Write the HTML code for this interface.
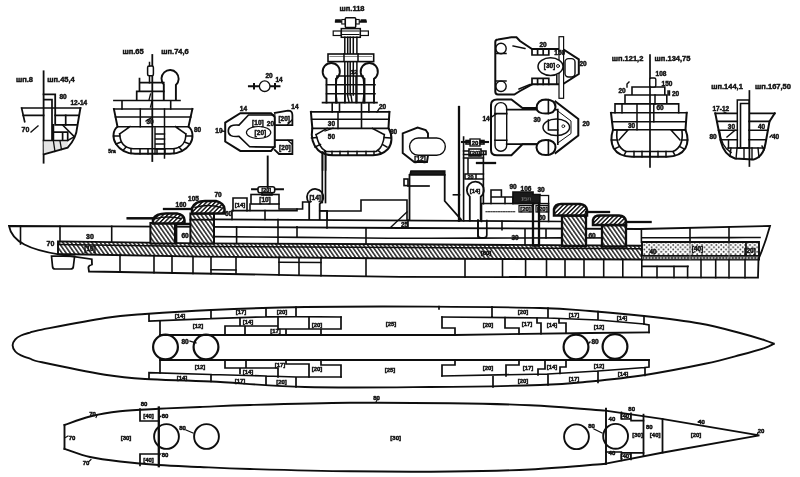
<!DOCTYPE html><html><head><meta charset="utf-8"><style>
html,body{margin:0;padding:0;background:#fff;}
svg{display:block;will-change:transform;}
text{font-family:"Liberation Sans",sans-serif;fill:#111;stroke:#111;stroke-width:0.45px;}
</style></head><body>
<svg width="800" height="477" viewBox="0 0 800 477">
<defs>
<pattern id="h" patternUnits="userSpaceOnUse" width="3.4" height="3.4" patternTransform="rotate(-35)">
<rect width="3.4" height="3.4" fill="#fff"/><line x1="0.8" y1="-1" x2="0.8" y2="4.4" stroke="#111" stroke-width="1.4"/></pattern>
<pattern id="h2" patternUnits="userSpaceOnUse" width="3.1" height="3.1" patternTransform="rotate(45)">
<rect width="3.1" height="3.1" fill="#fff"/><line x1="0.7" y1="-1" x2="0.7" y2="4.1" stroke="#111" stroke-width="1.5"/></pattern>
<pattern id="dots" patternUnits="userSpaceOnUse" width="4.8" height="4.6">
<rect width="4.8" height="4.6" fill="#fff"/><circle cx="1.2" cy="1.15" r="0.95" fill="#333"/><circle cx="3.6" cy="3.45" r="0.95" fill="#333"/></pattern>
<pattern id="sd" patternUnits="userSpaceOnUse" width="3.2" height="4">
<rect width="3.2" height="4" fill="#444"/><circle cx="1.6" cy="2" r="0.8" fill="#fff"/></pattern>
</defs>
<rect width="800" height="477" fill="#fff"/>
<g stroke="#0e0e0e" fill="none" stroke-linecap="square">

<path d="M58,241.4 L200,243.4 L400,244.2 L642,245.8 L642,259.5 L400,258.5 L200,256.6 L58,254.0 Z" stroke-width="1.90" fill="url(#h)" />
<path d="M58,244.5 L200,246.5 L400,247.5 L642,248.8" stroke-width="1.50" fill="none" />
<path d="M642,242 L759,242 L759,259.5 L642,259.5 Z" stroke-width="1.90" fill="url(#dots)" />
<rect x="642" y="255.5" width="117" height="4" fill="url(#sd)" stroke="none"/>
<path d="M642,255.5 L759,255.5" stroke-width="1.10" fill="none" />
<path d="M746,242 L746,255.5" stroke-width="1.70" fill="none" />
<path d="M690,242 L690,259.5 M729,242 L729,259.5" stroke-width="0.90" fill="none" stroke="#777"/>
<path d="M9,226 L111,226.3 L400,228 L640,229 L770,226 Q765,244 758.5,259 L758,277.7 L640,277.3 L400,276.8 L300,275.3 L120,272 L89,271.5 L88.4,267.5 Q88.5,265.5 92,264.5 L91.8,259.2 L60,254.6 C30,250 12,242 9,226 Z" stroke-width="1.80" fill="none" />
<path d="M51.5,256 L74.6,256.3 L73.3,267 Q73,269 70.5,269 L55,269 Q53,269 52.6,267 Z" stroke-width="1.70" fill="none" />
<path d="M20.5,226.0 L20.5,244.0" stroke-width="1.60"/>
<path d="M60.0,226.3 L60.0,241.4" stroke-width="1.60"/>
<path d="M111.7,226.3 L111.7,242.2" stroke-width="1.60"/>
<path d="M120.0,255.1 L120.0,272.1" stroke-width="1.60"/>
<path d="M154.0,255.8 L154.0,272.7" stroke-width="1.60"/>
<path d="M172.0,256.1 L172.0,273.0" stroke-width="1.60"/>
<path d="M193.0,256.5 L193.0,273.4" stroke-width="1.60"/>
<path d="M211.0,256.7 L211.0,273.7" stroke-width="1.60"/>
<path d="M236.0,256.9 L236.0,274.2" stroke-width="1.60"/>
<path d="M279.0,257.4 L279.0,274.9" stroke-width="1.60"/>
<path d="M299.0,257.5 L299.0,275.3" stroke-width="1.60"/>
<path d="M321.0,257.7 L321.0,275.6" stroke-width="1.60"/>
<path d="M366.0,258.2 L366.0,276.3" stroke-width="1.60"/>
<path d="M465.0,258.8 L465.0,276.9" stroke-width="1.60"/>
<path d="M502.5,258.9 L502.5,277.0" stroke-width="1.60"/>
<path d="M525.6,259.0 L525.6,277.1" stroke-width="1.60"/>
<path d="M546.5,259.1 L546.5,277.1" stroke-width="1.60"/>
<path d="M565.0,259.2 L565.0,277.1" stroke-width="1.60"/>
<path d="M584.0,259.3 L584.0,277.2" stroke-width="1.60"/>
<path d="M603.7,259.3 L603.7,277.2" stroke-width="1.60"/>
<path d="M622.8,259.4 L622.8,277.3" stroke-width="1.60"/>
<path d="M641.8,259.5 L641.8,277.3" stroke-width="1.60"/>
<path d="M657.0,266.5 L657.0,277.4" stroke-width="1.60"/>
<path d="M674.0,266.5 L674.0,277.4" stroke-width="1.60"/>
<path d="M687.6,266.5 L687.6,277.5" stroke-width="1.60"/>
<path d="M701.0,259.5 L701.0,277.5" stroke-width="1.60"/>
<path d="M715.7,259.5 L715.7,277.6" stroke-width="1.60"/>
<path d="M729.0,259.5 L729.0,277.6" stroke-width="1.60"/>
<path d="M745.0,259.5 L745.0,277.7" stroke-width="1.60"/>
<path d="M642.0,266.4 L647.8,266.4 L653.5,266.4 L659.2,266.4 L665.0,266.4 L670.8,266.4 L676.5,266.4 L682.2,266.4 L688.0,266.4" stroke-width="1.60"/>
<path d="M211,269.7 L236,270" stroke-width="1.50" fill="none" />
<path d="M279,262.3 L321,262.6" stroke-width="1.50" fill="none" />
<path d="M642.0,237.8 L656.8,237.7 L671.5,237.7 L686.2,237.7 L701.0,237.6 L715.8,237.6 L730.5,237.6 L745.2,237.5 L760.0,237.5" stroke-width="1.60"/>
<path d="M641.4,229.0 L641.4,242.3" stroke-width="1.60"/>
<path d="M690.0,227.8 L690.0,242.4" stroke-width="1.60"/>
<path d="M729.0,226.9 L729.0,242.4" stroke-width="1.60"/>
<path d="M214.0,236.6 L257.5,237.0 L301.0,237.4 L344.5,237.8 L388.0,238.2 L431.5,238.2 L475.0,238.1 L518.5,238.0 L562.0,237.9" stroke-width="1.60"/>
<path d="M586.0,237.9 L588.0,237.9 L590.0,237.9 L592.0,237.9 L594.0,237.9 L596.0,237.9 L598.0,237.9 L600.0,237.9 L602.0,237.9" stroke-width="1.60"/>
<path d="M214,219.3 L562,221.5" stroke-width="1.70" fill="none" />
<path d="M236.6,226.8 L236.6,243.6" stroke-width="1.60"/>
<path d="M278.0,219.5 L278.0,243.8" stroke-width="1.60"/>
<path d="M297.0,226.8 L297.0,236.5" stroke-width="1.60"/>
<path d="M327.0,211.0 L327.0,228.0" stroke-width="1.60"/>
<path d="M366.0,228.0 L366.0,244.0" stroke-width="1.60"/>
<path d="M408.0,220.0 L408.0,228.0" stroke-width="1.60"/>
<path d="M478.0,220.0 L478.0,237.0" stroke-width="1.60"/>
<path d="M502.0,221.4 L502.0,229.7" stroke-width="1.60"/>
<path d="M525.0,229.7 L525.0,245.0" stroke-width="1.60"/>
<path d="M546.0,229.7 L546.0,238.0" stroke-width="1.60"/>
<path d="M150.4,223 L175,223 L175,243.5 L150.4,243.5 Z" stroke-width="2.00" fill="url(#h)" />
<path d="M153,223.5 L153,219 Q156,213.5 166,213.5 L177,213.5 Q184,214.5 184.5,220 L184.5,223.5 Z" stroke-width="2.50" fill="url(#h2)" />
<path d="M156,218.5 Q166,215.5 181,218.5" stroke-width="1.40" fill="none" />
<line x1="127.7" y1="218.3" x2="154.0" y2="218.3" stroke-width="2.50" />
<path d="M176,224 L190,224 M176,224 L176,243" stroke-width="2.70" fill="none" stroke-dasharray="1.5,1"/>
<path d="M190.4,213.4 L214,213.4 L214,243.6 L190.4,243.6 Z" stroke-width="2.00" fill="url(#h)" />
<path d="M192,213.5 L192,208 Q195,201 205,201 L216,201 Q224,203 224.5,209 L224.5,213.5 Z" stroke-width="2.50" fill="url(#h2)" />
<path d="M195,207.5 Q208,203.5 221,207.5" stroke-width="1.40" fill="none" />
<path d="M190.4,219.7 L214,219.7" stroke-width="1.80" fill="none" />
<line x1="164.0" y1="209.0" x2="192.0" y2="209.0" stroke-width="2.30" />
<path d="M214,219.3 L214,213.4" stroke-width="1.50" fill="none" />
<path d="M232,219.4 L232,210.6 L297,210.6 L297,209 L302.6,209 L302.6,202 L310,202" stroke-width="1.60" fill="none" />
<path d="M233,210.6 L233,198 L247,198 L247,210.6" stroke-width="1.60" fill="none" />
<rect x="251" y="194.5" width="28" height="9.5" stroke-width="1.60" fill="none" />
<path d="M250,204 L250,210.6 M279,204 L279,209" stroke-width="1.50" fill="none" />
<path d="M280,209 L297,209" stroke-width="1.50" fill="none" />
<line x1="252.0" y1="189.3" x2="283.0" y2="189.3" stroke-width="1.90" />
<rect x="258" y="186.7" width="16.7" height="6" stroke-width="1.60" fill="#fff" rx="2"/>
<rect x="262" y="192.7" width="10" height="2.3" stroke-width="1.60" fill="none" />
<line x1="267.7" y1="156.5" x2="267.7" y2="187.0" stroke-width="1.90" />
<path d="M265.0,210.6 L265.0,219.5" stroke-width="1.60"/>
<path d="M309.2,219 L309.2,202.8 A8.2,8.2 0 1 1 319.7,204 L319.7,219" stroke-width="1.80" fill="none" />
<line x1="322.3" y1="152.0" x2="322.3" y2="202.5" stroke-width="1.70" />
<line x1="325.5" y1="152.0" x2="325.5" y2="202.5" stroke-width="1.70" />
<path d="M319.7,210.7 L327.2,210.7 M327.2,210.7 L327.2,219" stroke-width="1.50" fill="none" />
<path d="M320,211 L361,211 L361,200 L407,200 L407,220" stroke-width="1.60" fill="none" />
<path d="M409.5,175 L409.5,220 M444.7,175 L444.7,201 L461,219.5" stroke-width="1.80" fill="none" />
<path d="M411,171 L444.7,171 L444.7,175 L410,175 Z" stroke-width="1.70" fill="#1a1a1a" />
<rect x="404" y="179" width="4" height="6.6" stroke-width="1.60" fill="none" />
<line x1="408.0" y1="186.0" x2="429.0" y2="186.0" stroke-width="1.70" />
<line x1="391.0" y1="227.0" x2="407.0" y2="212.0" stroke-width="1.30" />
<line x1="459.0" y1="107.0" x2="459.0" y2="220.7" stroke-width="2.30" />
<path d="M463.6,137 L463.6,220.7 M483.4,152 L483.4,203.6" stroke-width="1.60" fill="none" />
<path d="M462,142 L488,142" stroke-width="2.10" fill="none" />
<rect x="470" y="139" width="10" height="7" stroke-width="1.30" fill="#fff" />
<rect x="466" y="140.5" width="4" height="3.5" stroke-width="1.60" fill="none" />
<rect x="480" y="140.5" width="4" height="3.5" stroke-width="1.60" fill="none" />
<path d="M469,149 L481,149 L481,156 L469,156 Z M463.6,151 L469,151 L469,154.5 M481,151 L486,151 L486,154.5 M463.6,154.5 L486,154.5" stroke-width="1.60" fill="none" />
<path d="M463.6,158 L483.4,158 M468,158 L468,174 M465,174 L476,174 L476,179 L465,179 Z M476,174 L483.4,174 M476,179 L483.4,179" stroke-width="1.50" fill="none" />
<path d="M469.8,220.7 L469.8,196.6 A8.5,8.5 0 1 1 480.7,196.8 L480.7,220.7" stroke-width="1.80" fill="none" />
<path d="M478,220.7 L478,235 Q478,237.8 481,237.8 L484,237.8 Q486.8,237.8 486.8,235 L486.8,220.7" stroke-width="1.70" fill="none" />
<line x1="477.0" y1="163.0" x2="495.0" y2="163.0" stroke-width="2.30" />
<line x1="453.4" y1="194.8" x2="459.5" y2="194.8" stroke-width="1.60" />
<path d="M481.5,221.4 L481.5,203.5 L513,203.5 L548.6,203.5 L548.6,221.4" stroke-width="1.60" fill="none" />
<path d="M491,203.5 L491,197 L501.4,197 L501.4,190 L491,190 L491,197 M501.4,197 L513,197 L513,203.5 M505,197 L505,203.5" stroke-width="1.60" fill="none" />
<path d="M513,192 L533,192 L533,194.5 L540,194.5 L540,203.5 L513,203.5 Z" stroke-width="1.70" fill="#1a1a1a" />
<rect x="540" y="195.5" width="8.6" height="8" stroke-width="1.3" fill="#fff"/>
<path d="M486,211.8 L516,211.8" stroke-width="1.10" fill="none" stroke-dasharray="1.2,1.3"/>
<rect x="519" y="205.6" width="13" height="6.4" stroke-width="1.20" fill="none" />
<rect x="536" y="205.6" width="12.6" height="6.4" stroke-width="1.20" fill="none" />
<path d="M533,203.5 L533,245.5 L539,245.5 L539,203.5" stroke-width="2.30" fill="none" stroke-dasharray="1.6,1.2"/>
<path d="M562,215.6 L586,215.6 L586,246 L562,246 Z" stroke-width="2.30" fill="url(#h)" />
<path d="M554,215.6 L554,209 Q555,204 561,204 L580,204 Q586,204.5 587,210 L587,215.6 Z" stroke-width="2.50" fill="url(#h2)" />
<line x1="586.0" y1="212.0" x2="609.0" y2="212.0" stroke-width="2.30" />
<path d="M602,225 L626,225 L626,246.5 L602,246.5 Z" stroke-width="2.30" fill="url(#h)" />
<path d="M593,225 L593,220 Q594,215.6 600,215.6 L619,215.6 Q625,216 626,221 L626,225 Z" stroke-width="2.50" fill="url(#h2)" />
<line x1="626.0" y1="222.0" x2="650.6" y2="222.0" stroke-width="2.30" />
<text x="50.5" y="245.5" font-size="7" text-anchor="middle" font-weight="bold">70</text>
<text x="90" y="239" font-size="7" text-anchor="middle" font-weight="bold">30</text>
<text x="90" y="251" font-size="6.5" text-anchor="middle" font-weight="bold">[10]</text>
<text x="185" y="237.5" font-size="6.5" text-anchor="middle" font-weight="bold">60</text>
<text x="181" y="207" font-size="6.5" text-anchor="middle" font-weight="bold">160</text>
<text x="193.5" y="201" font-size="6.5" text-anchor="middle" font-weight="bold">105</text>
<text x="218" y="197" font-size="6.5" text-anchor="middle" font-weight="bold">70</text>
<text x="228.5" y="216" font-size="6.5" text-anchor="middle" font-weight="bold">60</text>
<text x="240" y="207" font-size="6" text-anchor="middle" font-weight="bold">[14]</text>
<text x="265" y="202" font-size="6.5" text-anchor="middle" font-weight="bold">[10]</text>
<text x="266.3" y="191.8" font-size="5.5" text-anchor="middle" font-weight="bold">[20]</text>
<text x="315.2" y="199.5" font-size="6.5" text-anchor="middle" font-weight="bold">[14]</text>
<text x="404.5" y="226.5" font-size="6.5" text-anchor="middle" font-weight="bold">25</text>
<text x="475" y="144.6" font-size="6" text-anchor="middle" font-weight="bold">20</text>
<text x="475" y="154.6" font-size="6" text-anchor="middle" font-weight="bold">[20]</text>
<text x="470.5" y="178.7" font-size="5.5" text-anchor="middle" font-weight="bold">20</text>
<text x="475" y="193" font-size="6" text-anchor="middle" font-weight="bold">[14]</text>
<text x="513" y="188.5" font-size="6.5" text-anchor="middle" font-weight="bold">90</text>
<text x="526" y="190.5" font-size="6.5" text-anchor="middle" font-weight="bold">106</text>
<text x="541" y="191.5" font-size="6.5" text-anchor="middle" font-weight="bold">30</text>
<text x="526" y="201" font-size="6" text-anchor="middle" font-weight="bold" style="fill:#fff">150</text>
<text x="525.5" y="211" font-size="6" text-anchor="middle" font-weight="bold">[20]</text>
<text x="542.3" y="211" font-size="6" text-anchor="middle" font-weight="bold">[20]</text>
<text x="542" y="219.5" font-size="6.5" text-anchor="middle" font-weight="bold">60</text>
<text x="573" y="269" font-size="6" text-anchor="middle" font-weight="bold"></text>
<text x="486" y="255" font-size="6" text-anchor="middle" font-weight="bold">[60]</text>
<text x="515" y="240" font-size="6.5" text-anchor="middle" font-weight="bold">30</text>
<text x="592" y="238" font-size="6.5" text-anchor="middle" font-weight="bold">60</text>
<text x="653" y="253.5" font-size="6.5" text-anchor="middle" font-weight="bold">40</text>
<text x="697.5" y="250.5" font-size="6.5" text-anchor="middle" font-weight="bold">[40]</text>
<text x="750" y="252.5" font-size="6.5" text-anchor="middle" font-weight="bold">[20]</text>
<path d="M773.8,343.8 C772.3,343.2 770.6,342.1 765.0,340.3 C759.4,338.5 750.8,335.8 740.0,333.0 C729.2,330.2 716.0,326.3 700.0,323.5 C684.0,320.7 662.3,318.1 644.0,316.0 C625.7,313.9 607.3,312.3 590.0,311.0 C572.7,309.7 566.7,308.7 540.0,308.0 C513.3,307.3 469.2,306.8 430.0,306.6 C390.8,306.4 341.5,306.4 305.0,307.0 C268.5,307.6 237.7,308.8 211.0,310.0 C184.3,311.2 162.7,312.7 145.0,314.0 C127.3,315.3 122.2,315.4 105.0,318.0 C87.8,320.6 54.5,327.2 42.0,329.6 C29.5,332.0 33.5,331.6 30.0,332.6 C26.5,333.6 23.4,334.4 21.0,335.5 C18.6,336.6 16.7,337.7 15.3,339.3 C13.9,340.9 12.6,343.3 12.6,345.3 C12.6,347.3 13.9,349.8 15.3,351.5 C16.7,353.2 18.6,354.2 21.0,355.4 C23.4,356.6 26.5,357.5 30.0,358.6 C33.5,359.8 29.5,359.6 42.0,362.3 C54.5,365.0 87.8,371.9 105.0,374.7 C122.2,377.5 127.3,377.9 145.0,379.0 C162.7,380.1 184.3,380.2 211.0,381.5 C237.7,382.8 268.5,386.1 305.0,387.0 C341.5,387.9 390.8,387.3 430.0,387.0 C469.2,386.7 513.3,385.9 540.0,385.0 C566.7,384.1 572.5,383.2 590.0,381.5 C607.5,379.8 625.8,378.0 645.0,375.0 C664.2,372.0 689.2,367.1 705.0,363.8 C720.8,360.4 730.0,357.7 740.0,355.0 C750.0,352.3 759.4,349.7 765.0,347.8 C770.6,345.9 772.3,344.4 773.8,343.8" stroke-width="1.90" fill="none" />
<path d="M160,335 L455,335 L590,333 L649,332.3" stroke-width="1.80" fill="none" />
<path d="M160,360 L649,360" stroke-width="1.80" fill="none" />
<path d="M149,314 L149,321 L211,318.6 L266,316.8 L296,316.6 L341,317 M211,310 L211,318.6 M266,308.5 L266,316.8 M296,307 L296,316.6 M439,306.6 L439,309 M442,317 L548,318 L598,320 L644,324 M492,306.9 L492,317.3 M548,308 L548,318 M598,311.5 L598,320 M644,316 L644,324" stroke-width="1.70" fill="none" />
<path d="M160,321 L160,335 M225,335 L225,326 L240,326 L240,318.6 M240,326 L278,326 L278,316.8 M245,326 L245,335 M278,326 L278,329 L341,329 M286,329 L286,335 M321,329 L321,335 M309,317 L309,329 M341,317 L341,329" stroke-width="1.70" fill="none" />
<path d="M442,317 L442,328 L455,328 L455,335 M505,317.5 L505,328 L519,328 L519,334 M537,318.3 L537,323 L541,323 L541,333.6 M559,319 L559,323 L566,323 L566,333 M644,324 L649,325 L649,332.3" stroke-width="1.70" fill="none" />
<path d="M149,379 L149,372.6 L211,374.5 L266,376 L296,377 L341,377 M211,374.5 L211,381.5 M266,376 L266,384.5 M296,377 L296,387 M442,376 L548,374 L598,371 L645,367.5 L649,367 L649,360 M493,376 L493,387 M548,374 L548,385 M598,371 L598,382.5 M645,367.5 L645,375.5" stroke-width="1.70" fill="none" />
<path d="M160,360 L160,373 M225,360 L225,368 L240,368 L240,373.5 M240,368 L278,368 L278,377 M246,360 L246,368 M286,360 L286,364 L309,364 L309,377 M321,360 L321,365 L341,365 L341,377" stroke-width="1.70" fill="none" />
<path d="M455,360 L455,365 L442,365 L442,376 M519,360 L519,365 L506,365 L506,376 M545,360 L545,369 L538,369 L538,375 M566,360 L566,367 L560,367 L560,373.5" stroke-width="1.70" fill="none" />
<circle cx="165.5" cy="347" r="12.4" stroke-width="2.2"/>
<circle cx="206" cy="347" r="12.4" stroke-width="2.2"/>
<circle cx="576" cy="347" r="12.4" stroke-width="2.2"/>
<circle cx="615" cy="346.5" r="12.4" stroke-width="2.2"/>
<line x1="190.0" y1="341.0" x2="196.0" y2="343.0" stroke-width="1.30" />
<line x1="590.0" y1="342.0" x2="588.0" y2="344.0" stroke-width="1.30" />
<text x="185" y="343.5" font-size="6.5" text-anchor="middle" font-weight="bold">80</text>
<text x="595" y="343.5" font-size="6.5" text-anchor="middle" font-weight="bold">80</text>
<text x="180" y="318.2" font-size="6" text-anchor="middle" font-weight="bold">[14]</text>
<text x="241" y="314.2" font-size="6" text-anchor="middle" font-weight="bold">[17]</text>
<text x="282" y="314.2" font-size="6" text-anchor="middle" font-weight="bold">[20]</text>
<text x="198" y="328.2" font-size="6" text-anchor="middle" font-weight="bold">[12]</text>
<text x="248" y="324.2" font-size="6" text-anchor="middle" font-weight="bold">[14]</text>
<text x="275.5" y="332.7" font-size="6" text-anchor="middle" font-weight="bold">[17]</text>
<text x="317" y="327.2" font-size="6" text-anchor="middle" font-weight="bold">[20]</text>
<text x="391" y="326.2" font-size="6" text-anchor="middle" font-weight="bold">[25]</text>
<text x="488" y="327.2" font-size="6" text-anchor="middle" font-weight="bold">[20]</text>
<text x="523" y="314.2" font-size="6" text-anchor="middle" font-weight="bold">[20]</text>
<text x="574" y="317.2" font-size="6" text-anchor="middle" font-weight="bold">[17]</text>
<text x="527" y="326.2" font-size="6" text-anchor="middle" font-weight="bold">[17]</text>
<text x="552" y="326.7" font-size="6" text-anchor="middle" font-weight="bold">[14]</text>
<text x="622" y="320.2" font-size="6" text-anchor="middle" font-weight="bold">[14]</text>
<text x="599" y="329.2" font-size="6" text-anchor="middle" font-weight="bold">[12]</text>
<text x="200" y="369.2" font-size="6" text-anchor="middle" font-weight="bold">[12]</text>
<text x="182" y="380.2" font-size="6" text-anchor="middle" font-weight="bold">[14]</text>
<text x="240" y="383.2" font-size="6" text-anchor="middle" font-weight="bold">[17]</text>
<text x="281.5" y="383.7" font-size="6" text-anchor="middle" font-weight="bold">[20]</text>
<text x="248" y="374.2" font-size="6" text-anchor="middle" font-weight="bold">[14]</text>
<text x="280" y="366.7" font-size="6" text-anchor="middle" font-weight="bold">[17]</text>
<text x="317" y="371.2" font-size="6" text-anchor="middle" font-weight="bold">[20]</text>
<text x="390" y="372.2" font-size="6" text-anchor="middle" font-weight="bold">[25]</text>
<text x="488" y="370.2" font-size="6" text-anchor="middle" font-weight="bold">[20]</text>
<text x="528" y="370.2" font-size="6" text-anchor="middle" font-weight="bold">[17]</text>
<text x="552" y="368.7" font-size="6" text-anchor="middle" font-weight="bold">[14]</text>
<text x="523" y="383.2" font-size="6" text-anchor="middle" font-weight="bold">[20]</text>
<text x="574" y="380.7" font-size="6" text-anchor="middle" font-weight="bold">[17]</text>
<text x="599" y="368.2" font-size="6" text-anchor="middle" font-weight="bold">[12]</text>
<text x="623" y="376.2" font-size="6" text-anchor="middle" font-weight="bold">[14]</text>
<path d="M64.5,425.0 C68.8,423.6 80.8,418.8 90.0,416.5 C99.2,414.2 108.5,412.6 120.0,411.3 C131.5,410.0 145.4,409.5 158.8,408.8 C172.1,408.1 184.8,407.6 200.0,407.0 C215.2,406.4 225.0,405.7 250.0,405.0 C275.0,404.3 316.7,403.1 350.0,402.8 C383.3,402.5 420.0,402.8 450.0,403.2 C480.0,403.6 504.1,404.0 530.0,405.2 C555.9,406.4 592.8,409.7 605.4,410.6 L661.8,418.9 L759.4,435.4 L661.8,452.7 L605.4,463.7" stroke-width="1.90" fill="none" />
<path d="M64.5,448.8 C68.8,450.1 80.8,454.9 90.0,457.0 C99.2,459.1 108.5,460.2 120.0,461.5 C131.5,462.8 145.4,464.1 158.8,465.0 C172.1,465.9 184.8,466.3 200.0,467.0 C215.2,467.7 225.0,468.3 250.0,469.0 C275.0,469.7 316.7,470.9 350.0,471.3 C383.3,471.7 420.0,471.8 450.0,471.5 C480.0,471.2 504.1,470.8 530.0,469.5 C555.9,468.2 592.8,464.7 605.4,463.7" stroke-width="1.90" fill="none" />
<path d="M64.5,425 L64.5,448.75" stroke-width="1.90" fill="none" />
<line x1="158.8" y1="407.5" x2="158.8" y2="466.2" stroke-width="2.30" />
<path d="M140,409 L140,421 L158.75,421 M140,454 L140,465.5 M140,454 L158.75,454" stroke-width="1.70" fill="none" />
<text x="148.5" y="417.5" font-size="6" text-anchor="middle" font-weight="bold">[40]</text>
<text x="148.5" y="462" font-size="6" text-anchor="middle" font-weight="bold">[40]</text>
<line x1="606.0" y1="408.8" x2="606.0" y2="463.9" stroke-width="1.90" />
<line x1="643.5" y1="414.7" x2="643.5" y2="455.8" stroke-width="1.80" />
<line x1="662.5" y1="419.0" x2="662.5" y2="452.5" stroke-width="1.80" />
<path d="M621.4,412.2 L621.4,419 L631,419 L631,413.3 M631,420.6 L643.5,420.6 M606,452 L621.4,452 L621.4,460.5 M621.4,452.9 L643.5,452.9 M631,452.9 L631,459.5" stroke-width="1.60" fill="none" />
<circle cx="166.5" cy="436.5" r="12.4" stroke-width="1.9"/>
<circle cx="206.5" cy="436.5" r="12.4" stroke-width="1.9"/>
<circle cx="576.5" cy="436.75" r="12.4" stroke-width="1.9"/>
<circle cx="615.6" cy="436.3" r="12.4" stroke-width="1.9"/>
<line x1="186.0" y1="430.0" x2="193.0" y2="433.0" stroke-width="1.30" />
<line x1="594.0" y1="429.0" x2="602.0" y2="433.0" stroke-width="1.30" />
<path d="M96,417.5 L97,415.3 M65.5,437.5 L68,436 M89,461.5 L91,459.5 M158.75,418 L161,416 M158.75,456 L161,453.5 M376,402 L377,400 M700,420.5 L698,422 M757,434.5 L758,432.5" stroke-width="1.10" fill="none" />
<text x="92.5" y="415.5" font-size="6" text-anchor="middle" font-weight="bold">70</text>
<text x="86" y="464.5" font-size="6" text-anchor="middle" font-weight="bold">70</text>
<text x="72" y="439.5" font-size="6" text-anchor="middle" font-weight="bold">70</text>
<text x="126" y="440" font-size="6" text-anchor="middle" font-weight="bold">[30]</text>
<text x="144" y="406" font-size="6" text-anchor="middle" font-weight="bold">80</text>
<text x="165" y="418" font-size="6" text-anchor="middle" font-weight="bold">80</text>
<text x="182.5" y="429.5" font-size="6" text-anchor="middle" font-weight="bold">80</text>
<text x="165" y="457" font-size="6" text-anchor="middle" font-weight="bold">80</text>
<text x="376.6" y="400" font-size="6" text-anchor="middle" font-weight="bold">80</text>
<text x="395.7" y="440" font-size="6" text-anchor="middle" font-weight="bold">[30]</text>
<text x="631.7" y="411" font-size="6" text-anchor="middle" font-weight="bold">80</text>
<text x="611.9" y="421" font-size="6" text-anchor="middle" font-weight="bold">40</text>
<text x="625.8" y="417.5" font-size="6" text-anchor="middle" font-weight="bold">[40]</text>
<text x="637.6" y="436.5" font-size="6" text-anchor="middle" font-weight="bold">[30]</text>
<text x="649.3" y="428.5" font-size="6" text-anchor="middle" font-weight="bold">80</text>
<text x="655.2" y="436.5" font-size="6" text-anchor="middle" font-weight="bold">[40]</text>
<text x="696" y="436.5" font-size="6" text-anchor="middle" font-weight="bold">[20]</text>
<text x="701.6" y="423.5" font-size="6" text-anchor="middle" font-weight="bold">40</text>
<text x="761" y="433" font-size="6" text-anchor="middle" font-weight="bold">20</text>
<text x="591.6" y="428" font-size="6" text-anchor="middle" font-weight="bold">80</text>
<text x="611.9" y="454.5" font-size="6" text-anchor="middle" font-weight="bold">40</text>
<text x="625.8" y="458" font-size="6" text-anchor="middle" font-weight="bold">[40]</text>
<text x="24.5" y="82" font-size="7.5" text-anchor="middle" font-weight="bold">шп.8</text>
<text x="61" y="82" font-size="7.5" text-anchor="middle" font-weight="bold">шп.45,4</text>
<line x1="43.6" y1="71.3" x2="43.6" y2="162.7" stroke-width="1.80" />
<path d="M21.6,108 L80.4,108 M21.6,108 L24.7,121.7 M23,115.4 L43.6,115.4 M55.2,115.4 L79,115.4" stroke-width="1.70" fill="none" />
<path d="M43.6,140.5 L67.7,140.5 L67.7,147.6 L43.8,154.3 Z" stroke-width="0.60" fill="#e4e4e4" stroke="none"/>
<path d="M80.4,108 L77.2,127 C76.5,136 72,143 67.7,147.6 L43.8,154.3" stroke-width="1.90" fill="none" />
<path d="M43.6,94.4 L55.2,94.4 L55.2,124.9 L76,124.9" stroke-width="1.80" fill="none" />
<path d="M44.7,99.7 L52,99.7 L52,140.5 M53.4,132.1 L67.7,132.1 L67.7,140.5 M53.4,124.9 L53.4,140.5 M43.6,140.5 L67.7,140.5 M65.7,115.4 L65.7,124.9 M62.6,132.1 L62.6,140.5" stroke-width="1.70" fill="none" />
<path d="M62.6,125 L73.5,135.9 M67.7,140.5 L74,137" stroke-width="1.50" fill="none" />
<path d="M53.4,141 L55,151.5 M60,141 L61.5,149.5" stroke-width="1.30" fill="none" />
<text x="63" y="98.5" font-size="6.5" text-anchor="middle" font-weight="bold">80</text>
<text x="78.8" y="105" font-size="6.5" text-anchor="middle" font-weight="bold">12-14</text>
<text x="25.5" y="131.5" font-size="7" text-anchor="middle" font-weight="bold">70</text>
<line x1="31.0" y1="132.0" x2="38.0" y2="126.0" stroke-width="1.30" />
<text x="133" y="54" font-size="7.5" text-anchor="middle" font-weight="bold">шп.65</text>
<text x="175" y="54" font-size="7.5" text-anchor="middle" font-weight="bold">шп.74,6</text>
<line x1="152.3" y1="55.0" x2="152.3" y2="161.0" stroke-width="1.80" />
<path d="M113.9,100.5 L180,100.5 M122,100.5 L122,109 M170.7,100.5 L170.7,109" stroke-width="1.60" fill="none" />
<path d="M113.9,109 L192.4,109 M115.5,117 L190.8,117" stroke-width="1.60" fill="none" />
<path d="M113.9,109 L117.5,126.7 C113,130 112,138 116,144 C120,150 126,153.5 135,153.8 L170,153.8 C180,153.5 186,150 190,144 C194,138 193,130 188.5,126.7 L192.4,109" stroke-width="1.90" fill="none" />
<path d="M119.7,134 C120,142 124,148 133,148.7 L173,148.7 C182,148 186,142 185.8,134" stroke-width="1.60" fill="none" />
<path d="M117.5,126.7 L188.5,126.7 M119.7,134 L130,126.7 M175.5,126.7 L185.8,134" stroke-width="1.60" fill="none" />
<line x1="113.5" y1="136.0" x2="119.7" y2="136.0" stroke-width="1.50" />
<line x1="116.0" y1="144.0" x2="121.0" y2="142.0" stroke-width="1.50" />
<line x1="123.0" y1="150.5" x2="126.0" y2="147.0" stroke-width="1.50" />
<line x1="131.0" y1="153.6" x2="131.0" y2="148.7" stroke-width="1.50" />
<line x1="140.0" y1="153.8" x2="140.0" y2="148.7" stroke-width="1.50" />
<line x1="148.0" y1="153.8" x2="148.0" y2="148.7" stroke-width="1.50" />
<line x1="157.0" y1="153.8" x2="157.0" y2="148.7" stroke-width="1.50" />
<line x1="165.0" y1="153.8" x2="165.0" y2="148.7" stroke-width="1.50" />
<line x1="174.0" y1="153.6" x2="174.0" y2="148.7" stroke-width="1.50" />
<line x1="182.0" y1="150.5" x2="179.0" y2="147.0" stroke-width="1.50" />
<line x1="189.5" y1="144.0" x2="184.5" y2="142.0" stroke-width="1.50" />
<line x1="192.0" y1="136.0" x2="185.8" y2="136.0" stroke-width="1.50" />
<path d="M140.3,109 L140.3,126.7 M164.5,109 L164.5,158" stroke-width="1.50" fill="none" />
<path d="M155,128 L155,153.8 M155,134 L164.5,134 M155,139 L164.5,139 M155,144 L164.5,144 M155,149 L164.5,149" stroke-width="1.40" fill="none" />
<path d="M136.7,100 L136.7,91.3 L163.8,91.3 M139.5,91.3 L139.5,82.7 L163.8,82.7 M139.5,82.7 L139.5,78.5" stroke-width="1.70" fill="none" />
<rect x="147.6" y="66" width="5.8" height="9.8" rx="1.5" stroke-width="1.5" fill="#fff"/>
<path d="M149.5,66 L149.5,62.5 M149.5,75.8 L149.5,82.7" stroke-width="1.50" fill="none" />
<path d="M163.8,100 L163.8,84.5 A8.6,8.6 0 1 1 175.9,84.95 L175.9,100" stroke-width="1.90" fill="none" />
<path d="M150.5,94 L149,100 M152,101 L150.5,107" stroke-width="1.30" fill="none" />
<text x="150" y="124" font-size="6.5" text-anchor="middle" font-weight="bold">30</text>
<text x="197.6" y="132" font-size="6.5" text-anchor="middle" font-weight="bold">80</text>
<text x="112" y="152.5" font-size="5" text-anchor="middle" font-weight="bold">5ra</text>
<line x1="146.0" y1="121.0" x2="151.0" y2="118.0" stroke-width="1.30" />
<path d="M249,86.2 L279.4,86.2" stroke-width="2.10" fill="none" />
<circle cx="264.7" cy="86.2" r="5.3" stroke-width="1.3" fill="#fff"/>
<path d="M254,84 L254,88.5 M275,84 L275,88.5" stroke-width="2.00" fill="none" />
<text x="269" y="77.5" font-size="6.5" text-anchor="middle" font-weight="bold">20</text>
<text x="279" y="82" font-size="6.5" text-anchor="middle" font-weight="bold">14</text>
<path d="M225.2,122.6 L240.3,113.2 L271,113.2 L274.8,117 L274.8,146.5 L271,150.9 L240.3,150.9 L225.2,141.5 Z" stroke-width="2.00" fill="none" />
<path d="M274.8,115 L248.5,115 L239,125.1 Q228.3,124 228.3,131 Q228.3,137.5 239,136.4 L249.7,146.8 L274.8,147.1" stroke-width="1.60" fill="none" />
<ellipse cx="258.6" cy="132.5" rx="12.2" ry="6" stroke-width="1.2"/>
<path d="M274.8,113 L288,110.7 Q292.4,110.7 292.4,115 L292.4,125.1 L276,125.1" stroke-width="1.80" fill="none" />
<path d="M276,140.2 L292.4,140.2 L292.4,154 L279,154 L274.8,150" stroke-width="1.80" fill="none" />
<path d="M287.5,124.5 L292,120 M288,140.5 L292,144" stroke-width="1.30" fill="none" />
<text x="218.9" y="132.5" font-size="6.5" text-anchor="middle" font-weight="bold">10</text>
<text x="243.4" y="111" font-size="6.5" text-anchor="middle" font-weight="bold">14</text>
<text x="294.9" y="108.5" font-size="6.5" text-anchor="middle" font-weight="bold">14</text>
<text x="257.9" y="125" font-size="6.5" text-anchor="middle" font-weight="bold">[10]</text>
<text x="270.4" y="125.5" font-size="6.5" text-anchor="middle" font-weight="bold">20</text>
<text x="260.4" y="135" font-size="6.5" text-anchor="middle" font-weight="bold">[20]</text>
<text x="284.2" y="121" font-size="6.5" text-anchor="middle" font-weight="bold">[20]</text>
<text x="284.9" y="149.5" font-size="6.5" text-anchor="middle" font-weight="bold">[20]</text>
<line x1="221.5" y1="131.0" x2="225.2" y2="131.5" stroke-width="1.30" />
<text x="352" y="10.5" font-size="7.5" text-anchor="middle" font-weight="bold">шп.118</text>
<path d="M336,21.7 L365.7,21.7" stroke-width="2.30" fill="none" />
<path d="M336.5,20.5 L339.5,20.5 M362,20.5 L365,20.5" stroke-width="2.70" fill="none" />
<rect x="341.8" y="19.5" width="3.5" height="4.5" stroke-width="1.1" fill="#fff"/>
<rect x="355.7" y="19.5" width="3.5" height="4.5" stroke-width="1.1" fill="#fff"/>
<rect x="345.3" y="17.7" width="10.4" height="9.8" rx="1" stroke-width="1.5" fill="#fff"/>
<rect x="333.2" y="31" width="8.1" height="4.5" stroke-width="1.2" fill="#fff"/>
<rect x="360.3" y="31" width="8.1" height="4.5" stroke-width="1.2" fill="#fff"/>
<rect x="341.3" y="28.6" width="19" height="8.7" stroke-width="1.5" fill="#fff"/>
<path d="M342.5,31 L359,31 M342.5,34.5 L359,34.5" stroke-width="1.10" fill="none" stroke-dasharray="1.2,1"/>
<path d="M344.8,37.3 L344.8,102.6 M356.9,37.3 L356.9,102.6 M347.7,37.3 L347.7,95 M350.2,37.3 L350.2,95 M353.3,37.3 L353.3,95" stroke-width="1.50" fill="none" />
<path d="M347.5,95 L349,102 M351,95 L352,102" stroke-width="1.40" fill="none" />
<rect x="328" y="54" width="45.7" height="7.6" stroke-width="1.6" fill="#fff"/>
<path d="M330,56.5 L371.5,56.5" stroke-width="1.00" fill="none" stroke="#888"/>
<path d="M326.5,102.6 L326.5,78.8 A8.6,8.6 0 1 1 336,78.8 L336,102.6" stroke-width="1.90" fill="none" />
<path d="M364.5,102.6 L364.5,78.8 A8.6,8.6 0 1 1 374,78.8 L374,102.6" stroke-width="1.90" fill="none" />
<path d="M337,76 L363,76 M326.5,84.8 L375,84.8 M326.5,93.7 L375,93.7 M337,76 Q335,89 337,102.6 M363,76 Q365,89 363,102.6 M345,76 L345,102.6 M356,76 L356,102.6" stroke-width="1.50" fill="none" />
<path d="M344,53.8 L344,61.3 M358,53.8 L358,61.3" stroke-width="1.50" fill="none" />
<path d="M322.5,102.6 L377,102.6 M332.2,102.6 L332.2,111.9 M339.5,102.6 L339.5,111.9 M361.5,102.6 L361.5,128 M368.9,102.6 L368.9,111.9" stroke-width="1.60" fill="none" />
<path d="M310.9,111.9 L389.4,111.9 M311.6,119.2 L389,119.2 M312.3,128.4 L388.5,128.4" stroke-width="1.60" fill="none" />
<path d="M310.9,111.9 L312.3,128 C311,136 312,144 318,150 C322,154 327,155.2 333,155.2 L373,155.2 C380,155.2 384,153 388,149 C392,144 393,136 388.5,128 L389.4,111.9" stroke-width="2.00" fill="none" />
<path d="M316,134.6 C318,142 320,148 326,151.5 L376,151.5 C381,149 384,142 384.3,134.6 M316,134.6 L327,128.4 M372.5,128.4 L384.3,134.6" stroke-width="1.60" fill="none" />
<line x1="311.5" y1="138.0" x2="316.8" y2="137.5" stroke-width="1.50" />
<line x1="315.0" y1="147.0" x2="320.5" y2="144.5" stroke-width="1.50" />
<line x1="322.5" y1="153.3" x2="325.5" y2="151.0" stroke-width="1.50" />
<line x1="332.0" y1="155.2" x2="332.0" y2="151.5" stroke-width="1.50" />
<line x1="340.0" y1="155.2" x2="340.0" y2="151.5" stroke-width="1.50" />
<line x1="348.0" y1="155.2" x2="348.0" y2="151.5" stroke-width="1.50" />
<line x1="357.0" y1="155.2" x2="357.0" y2="151.5" stroke-width="1.50" />
<line x1="366.0" y1="155.2" x2="366.0" y2="151.5" stroke-width="1.50" />
<line x1="374.0" y1="155.2" x2="374.0" y2="151.5" stroke-width="1.50" />
<line x1="381.5" y1="153.3" x2="378.5" y2="150.8" stroke-width="1.50" />
<line x1="387.0" y1="147.0" x2="382.5" y2="144.5" stroke-width="1.50" />
<line x1="390.5" y1="138.0" x2="384.5" y2="137.5" stroke-width="1.50" />
<path d="M338,111.9 L338,128.4" stroke-width="1.50" fill="none" />
<line x1="322.6" y1="155.2" x2="322.6" y2="170.0" stroke-width="1.60" />
<line x1="325.6" y1="155.2" x2="325.6" y2="170.0" stroke-width="1.60" />
<text x="382.5" y="109" font-size="6.5" text-anchor="middle" font-weight="bold">20</text>
<text x="331.4" y="125.8" font-size="6.5" text-anchor="middle" font-weight="bold">30</text>
<text x="331.4" y="139" font-size="6.5" text-anchor="middle" font-weight="bold">50</text>
<text x="393.5" y="134" font-size="6.5" text-anchor="middle" font-weight="bold">80</text>
<text x="354" y="73.5" font-size="6" text-anchor="middle" font-weight="bold">12</text>
<line x1="325.0" y1="131.0" x2="333.0" y2="128.0" stroke-width="1.30" />
<line x1="379.0" y1="109.0" x2="377.0" y2="112.0" stroke-width="1.30" />
<path d="M498,39.5 L511.4,37.3 L516.5,37.3 L520,41 L532,49 L562.7,49 L578.8,59.3 L578.8,74 L562.7,84.3 L532,84.3 L520,91 L514.3,94.5 L498,94.5 Q495.3,94.5 495.3,91.5 L495.3,42 Q495.3,39.5 498,39.5 Z" stroke-width="2.00" fill="none" />
<circle cx="501" cy="48.5" r="5.2" stroke-width="1.4"/>
<circle cx="501" cy="86.3" r="5.2" stroke-width="1.4"/>
<path d="M496,53.5 L506,53.5 M496,81 L506,81" stroke-width="1.50" fill="none" />
<rect x="559" y="36.7" width="4.6" height="61.6" stroke-width="1.2" fill="#fff"/>
<ellipse cx="550.5" cy="66.6" rx="12.5" ry="8.8" stroke-width="1.5" fill="#fff"/>
<rect x="565" y="58.6" width="10" height="18.4" rx="3.5" stroke-width="1.4"/>
<path d="M556.8,75.5 L556.8,84.3" stroke-width="1.50" fill="none" />
<circle cx="558" cy="66" r="1.5" stroke-width="0.9"/>
<path d="M532,49 L532,55 L548.8,55 L548.8,49 M537.6,49 L537.6,55 M543.2,49 L543.2,55" stroke-width="1.70" fill="none" />
<path d="M532,84.3 L532,78.3 L548.8,78.3 L548.8,84.3 M537.6,78.3 L537.6,84.3 M543.2,78.3 L543.2,84.3" stroke-width="1.70" fill="none" />
<path d="M513,46 L525,48.5 M519,89 L530,84.3" stroke-width="1.40" fill="none" />
<text x="543" y="46.5" font-size="6.5" text-anchor="middle" font-weight="bold">20</text>
<text x="559.8" y="55" font-size="6.5" text-anchor="middle" font-weight="bold">150</text>
<text x="583" y="66" font-size="6.5" text-anchor="middle" font-weight="bold">20</text>
<text x="549.5" y="68.3" font-size="6.5" text-anchor="middle" font-weight="bold">[30]</text>
<path d="M536.5,108 L522.5,108 L511.4,99.4 L497,99.4 Q491,99.4 491,105 L491,150 Q491,155.3 497,155.3 L511.4,155.3 L522.5,144.2 L536.5,144.2 M555.5,101.5 L578.3,119 L578.3,135.6 L555.5,153" stroke-width="2.00" fill="none" />
<rect x="495" y="102.6" width="11.7" height="48.7" rx="5.8" stroke-width="1.4"/>
<path d="M495,113.6 L506.7,113.6 M495,140.3 L506.7,140.3" stroke-width="1.60" fill="none" />
<path d="M506.7,109.7 L536.5,109.7 M506.7,144.2 L536.5,144.2 M555,109.7 L557.8,109.7 L557.8,144.2" stroke-width="1.70" fill="none" />
<path d="M536.5,108 Q537,99.4 546,99.4 Q555.5,99.8 555.5,107 Q555,113.6 546,113.6 Q537,113.6 536.5,108 Z M536.5,147.5 Q537,140 546,140 Q555.5,140 555.5,147.5 Q555,155 546,155 Q537,155 536.5,147.5 Z" stroke-width="2.00" fill="none" />
<path d="M548.4,99.6 L548.4,113.6 M548.4,140 L548.4,155" stroke-width="1.60" fill="none" />
<ellipse cx="556.3" cy="127.3" rx="13.3" ry="8.3" stroke-width="1.5"/>
<path d="M548.4,120 L548.4,130 L557.8,130" stroke-width="1.50" fill="none" />
<path d="M557.8,111 L571,121 L571,133.5 L557.8,143" stroke-width="1.00" fill="none" />
<circle cx="563.3" cy="126.2" r="1.4" stroke-width="0.9"/>
<text x="486" y="120.5" font-size="6.5" text-anchor="middle" font-weight="bold">14</text>
<text x="537" y="121.5" font-size="6.5" text-anchor="middle" font-weight="bold">30</text>
<text x="586" y="126" font-size="6.5" text-anchor="middle" font-weight="bold">20</text>
<line x1="490.0" y1="118.0" x2="496.0" y2="114.0" stroke-width="1.30" />
<path d="M428,138 L428,133.4 L425.7,130 L417.6,127.6 L402.7,133.4 L402.7,153 L414.2,162 L427,162 L428,155.3" stroke-width="1.90" fill="none" />
<rect x="409.6" y="138" width="35.7" height="17.3" rx="8.6" stroke-width="1.4" fill="#fff"/>
<text x="420" y="160.5" font-size="6.5" text-anchor="middle" font-weight="bold">[12]</text>
<text x="627.5" y="61" font-size="7.5" text-anchor="middle" font-weight="bold">шп.121,2</text>
<text x="672.5" y="61" font-size="7.5" text-anchor="middle" font-weight="bold">шп.134,75</text>
<line x1="650.0" y1="55.0" x2="650.0" y2="167.0" stroke-width="1.70" />
<path d="M611,112.8 L686.7,112.8 M612,121.8 L685.6,121.8 M613,129.8 L685.5,129.8" stroke-width="1.60" fill="none" />
<path d="M611,112.8 L613,129.8 C611,136 610.5,142 613.5,148 C617,154 624,156.7 632,156.7 L667,156.7 C675,156.7 682,154 685.5,148 C688.5,142 688,136 685.5,129.8 L686.7,112.8" stroke-width="2.00" fill="none" />
<path d="M617,131 C616,140 618,148 626,151.5 L673,151.5 C681,148 683,140 682,131" stroke-width="1.60" fill="none" />
<path d="M614,130 L628,130 L619,140 M685,130 L671,130 L680,140" stroke-width="1.50" fill="none" />
<line x1="611.5" y1="140.0" x2="616.5" y2="140.0" stroke-width="1.50" />
<line x1="614.5" y1="149.0" x2="619.5" y2="146.5" stroke-width="1.50" />
<line x1="624.0" y1="155.5" x2="626.0" y2="151.5" stroke-width="1.50" />
<line x1="634.0" y1="156.7" x2="634.0" y2="151.5" stroke-width="1.50" />
<line x1="642.0" y1="156.7" x2="642.0" y2="151.5" stroke-width="1.50" />
<line x1="650.0" y1="156.7" x2="650.0" y2="151.5" stroke-width="1.50" />
<line x1="658.0" y1="156.7" x2="658.0" y2="151.5" stroke-width="1.50" />
<line x1="666.0" y1="156.7" x2="666.0" y2="151.5" stroke-width="1.50" />
<line x1="675.0" y1="155.5" x2="673.0" y2="151.5" stroke-width="1.50" />
<line x1="684.5" y1="149.0" x2="679.5" y2="146.5" stroke-width="1.50" />
<line x1="687.5" y1="140.0" x2="682.5" y2="140.0" stroke-width="1.50" />
<path d="M615,103.9 L678.7,103.9 L678.7,112.8 M615,103.9 L615,112.8 M625,95 L666.8,95 L666.8,103.9 M625,95 L625,103.9 M632,87 L664.8,87 L664.8,95 M632,87 L632,95" stroke-width="1.60" fill="none" />
<rect x="649.8" y="78" width="6" height="9" rx="1.5" stroke-width="1.4" fill="#fff"/>
<path d="M622,103.9 L622,112.8 M637,103.9 L637,129.8 M653.8,103.9 L653.8,121.8 M655,95 L655,103.9" stroke-width="1.50" fill="none" />
<path d="M627,87 L627,84 L629,82 M668,95 L668,91 M669.5,95 L669.5,91" stroke-width="1.40" fill="none" />
<text x="661" y="75.5" font-size="6.5" text-anchor="middle" font-weight="bold">108</text>
<text x="667" y="85.5" font-size="6.5" text-anchor="middle" font-weight="bold">150</text>
<text x="622" y="92.5" font-size="6.5" text-anchor="middle" font-weight="bold">20</text>
<text x="675.5" y="95.5" font-size="6.5" text-anchor="middle" font-weight="bold">20</text>
<text x="660" y="110" font-size="6.5" text-anchor="middle" font-weight="bold">60</text>
<text x="631.5" y="128" font-size="6.5" text-anchor="middle" font-weight="bold">30</text>
<text x="727" y="88.5" font-size="7.5" text-anchor="middle" font-weight="bold">шп.144,1</text>
<text x="773" y="88.5" font-size="7.5" text-anchor="middle" font-weight="bold">шп.167,50</text>
<line x1="749.4" y1="91.0" x2="749.4" y2="166.0" stroke-width="1.70" />
<path d="M715.3,113.4 L737.3,113.4 M749,113.4 L774.7,113.4" stroke-width="1.70" fill="none" />
<path d="M715.3,113.4 L721,142 C723,150 727,156 735,158.5 L753.5,159.6 C760,158 764,152 765.5,143.5 L769.5,121.4 L774.7,113.4" stroke-width="2.00" fill="none" />
<rect x="737.3" y="100" width="11.7" height="48" stroke-width="1.5" fill="#fff"/>
<path d="M740.5,148 L740.5,103.5 L749,103.5" stroke-width="1.60" fill="none" />
<path d="M716.8,121.4 L737.3,121.4 M718.5,130.2 L737.3,130.2 M720.3,139.8 L737.3,139.8 M749,121.4 L769.5,121.4 M749,130.2 L767.8,130.2 M749,139.8 L766.2,139.8 M728,148 L764.5,148" stroke-width="1.60" fill="none" />
<path d="M719.5,131 C720.5,141 723.5,148 731,152.5 M728.5,139.8 L728.5,148 M735,130.2 L727,137" stroke-width="1.50" fill="none" />
<line x1="731.0" y1="148.0" x2="730.0" y2="156.0" stroke-width="1.40" />
<line x1="737.0" y1="148.0" x2="736.0" y2="158.7" stroke-width="1.40" />
<line x1="744.0" y1="148.0" x2="744.0" y2="159.3" stroke-width="1.40" />
<line x1="752.0" y1="148.0" x2="752.0" y2="159.5" stroke-width="1.40" />
<line x1="758.0" y1="148.0" x2="759.0" y2="157.5" stroke-width="1.40" />
<line x1="762.0" y1="146.0" x2="764.0" y2="150.0" stroke-width="1.40" />
<text x="720.8" y="110.5" font-size="6.5" text-anchor="middle" font-weight="bold">17-12</text>
<text x="731.4" y="129" font-size="6.5" text-anchor="middle" font-weight="bold">30</text>
<text x="761.5" y="129" font-size="6.5" text-anchor="middle" font-weight="bold">40</text>
<text x="713" y="139" font-size="6.5" text-anchor="middle" font-weight="bold">80</text>
<text x="775.5" y="138.5" font-size="6.5" text-anchor="middle" font-weight="bold">40</text>
<line x1="724.0" y1="112.0" x2="726.0" y2="113.0" stroke-width="1.30" />
<line x1="770.0" y1="137.0" x2="772.0" y2="135.0" stroke-width="1.30" />
</g></svg></body></html>
